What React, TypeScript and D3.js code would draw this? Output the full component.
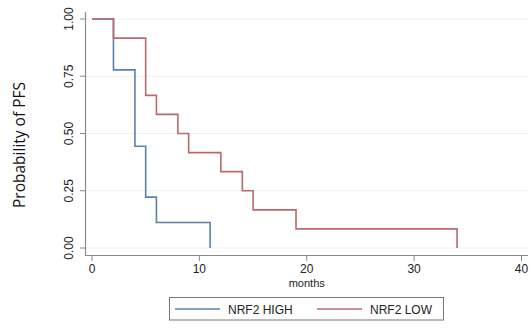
import { useRef, useEffect } from 'react';
import * as d3 from 'd3';

// Kaplan-Meier steps: time, survival after that time
const highTimes = [0, 2, 4, 5, 6, 11];
const highSurv = [1, 7 / 9, 4 / 9, 2 / 9, 1 / 9, 0];
const lowTimes = [0, 2, 5, 6, 8, 9, 12, 14, 15, 19, 34];
const lowSurv = [1, 11 / 12, 8 / 12, 7 / 12, 6 / 12, 5 / 12, 4 / 12, 3 / 12, 2 / 12, 1 / 12, 0];
const xTicks = [0, 10, 20, 30, 40];
const yTicks = [0, 0.25, 0.5, 0.75, 1];
const seriesNames = ['NRF2 HIGH', 'NRF2 LOW'];
const seriesColors = ['#5c80ac', '#bb6870'];

const width = 531;
const height = 328;

export default function App() {
  const svgRef = useRef<SVGSVGElement>(null);

  useEffect(() => {
    if (!svgRef.current) return;
    const svg = d3.select(svgRef.current);
    svg.selectAll('*').remove();

    const x = d3.scaleLinear().domain([0, 40]).range([92, 521.5]);
    const y = d3.scaleLinear().domain([0, 1]).range([248, 19]);
    const font = '"Liberation Sans", Arial, sans-serif';

    // grid lines
    svg.append('g')
      .selectAll('line')
      .data(yTicks)
      .join('line')
      .attr('x1', 86)
      .attr('x2', 528)
      .attr('y1', (d) => y(d))
      .attr('y2', (d) => y(d))
      .attr('stroke', '#eaf2f3')
      .attr('stroke-width', 1);

    // y axis
    const yAxis = svg.append('g');
    yAxis.append('line')
      .attr('x1', 85.5).attr('x2', 85.5)
      .attr('y1', 12).attr('y2', 256)
      .attr('stroke', '#8a8a8a').attr('stroke-width', 1.2);
    yAxis.selectAll('line.tick')
      .data(yTicks)
      .join('line')
      .attr('class', 'tick')
      .attr('x1', 80).attr('x2', 85.5)
      .attr('y1', (d) => y(d)).attr('y2', (d) => y(d))
      .attr('stroke', '#8a8a8a');
    yAxis.selectAll('text')
      .data(yTicks)
      .join('text')
      .attr('transform', (d) => `translate(72.5,${y(d)}) rotate(-90)`)
      .attr('text-anchor', 'middle')
      .attr('font-family', font)
      .attr('font-size', 12)
      .attr('fill', '#222')
      .text((d) => d3.format('.2f')(d));

    // x axis
    const xAxis = svg.append('g');
    xAxis.append('line')
      .attr('x1', 85.5).attr('x2', 528)
      .attr('y1', 255.5).attr('y2', 255.5)
      .attr('stroke', '#8a8a8a').attr('stroke-width', 1.2);
    xAxis.selectAll('line.tick')
      .data(xTicks)
      .join('line')
      .attr('class', 'tick')
      .attr('x1', (d) => x(d)).attr('x2', (d) => x(d))
      .attr('y1', 255.5).attr('y2', 261)
      .attr('stroke', '#8a8a8a');
    xAxis.selectAll('text')
      .data(xTicks)
      .join('text')
      .attr('x', (d) => x(d))
      .attr('y', 273)
      .attr('text-anchor', 'middle')
      .attr('font-family', font)
      .attr('font-size', 12)
      .attr('fill', '#222')
      .text((d) => d);
    svg.append('text')
      .attr('x', x(20))
      .attr('y', 287)
      .attr('text-anchor', 'middle')
      .attr('font-family', font)
      .attr('font-size', 11)
      .attr('fill', '#222')
      .text('months');

    // y title
    svg.append('text')
      .attr('transform', 'translate(25,145) rotate(-90)')
      .attr('text-anchor', 'middle')
      .attr('font-family', '"Open Sans", sans-serif')
      .attr('font-size', 15.5)
      .attr('fill', '#111')
      .text('Probability of PFS');

    // curves
    const line = d3.line<[number, number]>()
      .x((d) => x(d[0]))
      .y((d) => y(d[1]))
      .curve(d3.curveStepAfter);
    const curves = [
      highTimes.map((t, i) => [t, highSurv[i]] as [number, number]),
      lowTimes.map((t, i) => [t, lowSurv[i]] as [number, number]),
    ];
    curves.forEach((pts, i) => {
      svg.append('path')
        .attr('d', line(pts))
        .attr('fill', 'none')
        .attr('stroke', seriesColors[i])
        .attr('stroke-width', 1.6);
    });

    // legend
    const lg = svg.append('g');
    lg.append('rect')
      .attr('x', 169.5).attr('y', 297.5)
      .attr('width', 274).attr('height', 22.5)
      .attr('fill', '#fff')
      .attr('stroke', '#777');
    const legendX = [175, 317];
    seriesNames.forEach((name, i) => {
      lg.append('line')
        .attr('x1', legendX[i]).attr('x2', legendX[i] + 45)
        .attr('y1', 309).attr('y2', 309)
        .attr('stroke', seriesColors[i]).attr('stroke-width', 1.6);
      lg.append('text')
        .attr('x', legendX[i] + 53)
        .attr('y', 313.5)
        .attr('font-family', font)
        .attr('font-size', 12)
        .attr('fill', '#222')
        .text(name);
    });
  }, []);

  return (
    <div style={{ position: 'absolute', left: 0, top: 0 }}>
      <svg ref={svgRef} width={width} height={height} style={{ display: 'block', background: '#fff' }} />
    </div>
  );
}
